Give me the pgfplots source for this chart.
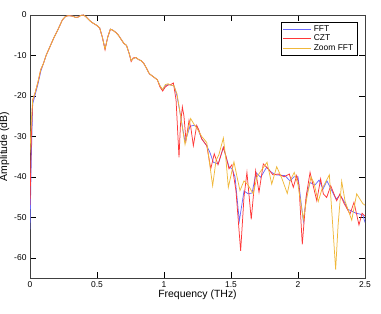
\documentclass[border=0pt]{standalone}
\usepackage{pgfplots}
\pgfplotsset{compat=1.18}
\usepackage{fontspec}
\setmainfont{Liberation Sans}
\definecolor{cfft}{RGB}{105,105,255}
\definecolor{cczt}{RGB}{255,55,55}
\definecolor{czoom}{RGB}{240,184,58}

\pgfplotstableread{
x y
0 -53
0.01 -35
0.02 -22
0.04 -19.5
0.06 -17
0.08 -14
0.10 -12
0.12 -10
0.14 -8.5
0.16 -7
0.18 -5.5
0.20 -4.2
0.22 -2.8
0.24 -1.3
0.26 -0.5
0.28 -0.2
0.30 -0.2
0.32 -0.3
0.34 -0.6
0.36 -0.5
0.38 -0.1
0.40 0
0.42 -0.5
0.44 -1.2
0.46 -1.8
0.48 -2.2
0.50 -2.6
0.52 -3.2
0.54 -5.5
0.56 -8.3
0.58 -5.5
0.60 -3.5
0.62 -3.8
0.64 -4.3
0.66 -5.0
0.68 -6.0
0.70 -7.0
0.72 -7.5
0.74 -9.5
0.755 -11.3
0.77 -10.8
0.79 -10.5
0.81 -11.0
0.83 -11.3
0.85 -12
0.87 -13.2
0.89 -14.5
0.91 -15
0.93 -15.5
0.95 -16
0.97 -17.5
0.99 -18.6
1.01 -17.5
1.03 -17.2
1.05 -17.3
1.075 -17.5
1.097 -20
1.119 -24
1.157 -31.4
1.194 -27.5
1.219 -27.3
1.246 -27.5
1.281 -30.6
1.319 -32.3
1.343 -34
1.368 -36.4
1.405 -36.8
1.443 -32.7
1.463 -35
1.485 -37.5
1.507 -38
1.53 -40
1.562 -50.9
1.597 -43.5
1.629 -44.2
1.657 -44
1.687 -39
1.722 -40.1
1.766 -37.6
1.799 -38.8
1.834 -39.5
1.903 -39.7
1.94 -41
1.97 -40
2.0 -40
2.04 -51
2.067 -44
2.09 -41.4
2.127 -42
2.157 -40.8
2.187 -43
2.216 -41
2.246 -43
2.284 -45.5
2.313 -44.5
2.343 -46
2.371 -48
2.403 -48.5
2.433 -49
2.463 -49.2
2.485 -49.5
2.5 -51.3
}\fft

\pgfplotstableread{
x y
0 -47
0.01 -30
0.02 -21
0.04 -19
0.06 -16.5
0.08 -13.5
0.10 -12
0.12 -10
0.14 -8.5
0.16 -7
0.18 -5.5
0.20 -4.2
0.22 -2.8
0.24 -1.3
0.26 -0.5
0.28 -0.2
0.30 -0.2
0.32 -0.3
0.34 -0.6
0.36 -0.5
0.38 -0.1
0.40 0
0.42 -0.5
0.44 -1.2
0.46 -1.8
0.48 -2.2
0.50 -2.6
0.52 -3.2
0.54 -5.5
0.56 -8.6
0.58 -5.5
0.60 -3.5
0.62 -3.8
0.64 -4.3
0.66 -5.0
0.68 -6.0
0.70 -7.0
0.72 -7.5
0.74 -9.5
0.755 -11.5
0.77 -10.6
0.79 -10.5
0.81 -11.0
0.83 -11.3
0.85 -12
0.87 -13.2
0.89 -14.5
0.91 -15
0.93 -15.5
0.95 -16
0.97 -17.8
0.99 -18.8
1.01 -17.8
1.03 -17.3
1.05 -17.2
1.07 -16.8
1.09 -21
1.104 -30
1.112 -35.2
1.123 -27
1.137 -22.7
1.149 -25
1.164 -31
1.187 -26
1.201 -28
1.219 -32.3
1.244 -27.3
1.261 -28.5
1.281 -30.6
1.319 -32.3
1.349 -38
1.375 -34.3
1.403 -37
1.443 -32.7
1.463 -35
1.485 -38
1.507 -37
1.537 -43.4
1.572 -58.3
1.597 -45
1.619 -38.9
1.651 -50.5
1.684 -38.5
1.709 -43.8
1.741 -36.8
1.776 -38
1.813 -39.5
1.853 -39.3
1.896 -40
1.935 -39.3
1.965 -42.6
1.99 -39.7
2.007 -42
2.032 -56.7
2.06 -45
2.09 -38.9
2.112 -42
2.14 -45.9
2.169 -40.5
2.189 -44.2
2.214 -45.1
2.244 -42.2
2.289 -45.9
2.313 -44.2
2.343 -46.5
2.388 -49.2
2.418 -46.3
2.455 -51.9
2.478 -49
2.5 -49.7
}\czt

\pgfplotstableread{
x y
0 -34
0.01 -26
0.02 -21
0.04 -19
0.06 -16.5
0.08 -13.5
0.10 -12
0.12 -10
0.14 -8.5
0.16 -7
0.18 -5.5
0.20 -4.2
0.22 -2.8
0.24 -1.3
0.26 -0.5
0.28 -0.2
0.30 -0.2
0.32 -0.3
0.34 -0.6
0.36 -0.5
0.38 -0.1
0.40 0
0.42 -0.5
0.44 -1.2
0.46 -1.8
0.48 -2.2
0.50 -2.6
0.52 -3.2
0.54 -5.5
0.56 -8.4
0.58 -5.5
0.60 -3.5
0.62 -3.8
0.64 -4.3
0.66 -5.0
0.68 -6.0
0.70 -7.0
0.72 -7.5
0.74 -9.5
0.755 -11.3
0.77 -10.8
0.79 -10.5
0.81 -11.0
0.83 -11.3
0.85 -12
0.87 -13.2
0.89 -14.5
0.91 -15
0.93 -15.5
0.95 -16
0.97 -17.5
0.99 -18.4
1.01 -17.2
1.03 -17.0
1.05 -17.3
1.075 -17.5
1.097 -19.5
1.119 -24
1.157 -32
1.199 -25.6
1.224 -27
1.246 -28
1.281 -30
1.319 -31.5
1.363 -42.2
1.388 -36
1.41 -34.5
1.443 -30.4
1.463 -36
1.48 -42.6
1.522 -36.3
1.545 -40
1.567 -43.4
1.597 -41
1.627 -42
1.666 -44.2
1.694 -40
1.724 -38.5
1.769 -36.4
1.804 -41.8
1.841 -37.5
1.881 -40.5
1.92 -44.1
1.94 -41
1.972 -38.9
2.0 -42
2.04 -50.5
2.067 -45
2.097 -40
2.119 -41.5
2.151 -46.1
2.179 -43
2.234 -39.5
2.281 -62.9
2.299 -52
2.326 -41.1
2.351 -46
2.401 -50.7
2.438 -44.2
2.483 -46.6
2.5 -47
}\zoomfft

\begin{document}
\begin{tikzpicture}
\begin{axis}[
    name=ax,
    scale only axis,
    width=335bp,
    height=263bp,
    xmin=0, xmax=2.5,
    ymin=-65, ymax=0,
    xtick={0,0.5,1,1.5,2,2.5},
    ytick={0,-10,-20,-30,-40,-50,-60},
    tick align=inside,
    major tick length=6bp,
    tick style={black, line width=0.5pt},
    axis line style={black!75, line width=0.6pt},
    ticklabel style={font=\fontsize{8.5}{10}\selectfont},
    label style={font=\fontsize{10.5}{12}\selectfont},
    /pgf/number format/assume math mode=true,
    xlabel={Frequency (THz)},
    ylabel={Amplitude (dB)},
    xlabel style={yshift=4bp},
    ylabel style={yshift=-2bp},
    legend style={
        at={(1,1)}, anchor=north east,
        xshift=-8bp, yshift=-7bp,
        font=\fontsize{8.5}{10}\selectfont,
        inner sep=1.5pt,
        row sep=-2pt,
        cells={anchor=west},
    },
    legend image code/.code={
        \draw[#1, line width=0.9pt] (0cm,0cm) -- (1cm,0cm);
    },
    every axis plot/.append style={line width=0.75pt},
]
\addplot[draw=cfft] table[x=x, y=y] {\fft};
\addlegendentry{FFT}
\addplot[draw=cczt] table[x=x, y=y] {\czt};
\addlegendentry{CZT}
\addplot[draw=czoom] table[x=x, y=y] {\zoomfft};
\addlegendentry{Zoom FFT}
\end{axis}
\pgfresetboundingbox
\path[use as bounding box] ([shift={(-30bp,-36bp)}]ax.south west) rectangle ([shift={(16bp,15bp)}]ax.north east);
\end{tikzpicture}
\end{document}
